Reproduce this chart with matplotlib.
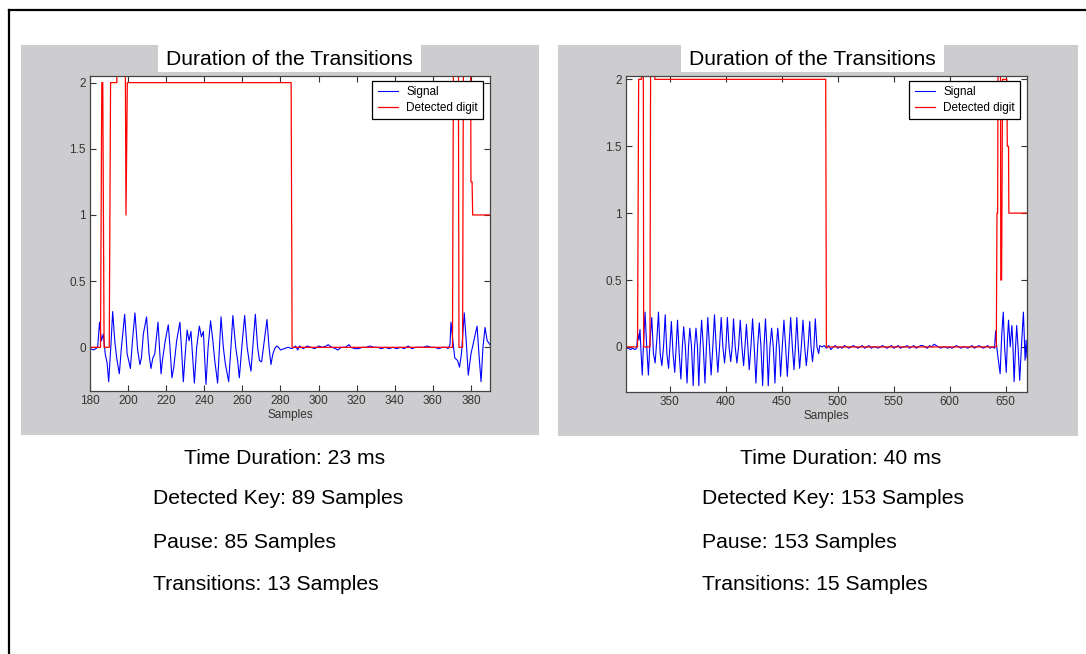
import matplotlib
matplotlib.use("Agg")
import matplotlib.pyplot as plt
from matplotlib.patches import Rectangle
from matplotlib.lines import Line2D

plt.rcParams['font.family'] = ['Liberation Sans', 'DejaVu Sans']

# Left chart: samples 180-390
left_signal = [(180, -0.01), (182, -0.02), (184, 0.0), (185, 0.19), (186, 0.05), (187, 0.1), (188, -0.05),
               (189, -0.12), (189.8, -0.26), (191, 0.02), (191.9, 0.27), (193, 0.05), (194, -0.08), (195.4, -0.2),
               (196.5, 0.0), (198.2, 0.25), (199.5, -0.05), (200.3, -0.1), (201.2, -0.16), (202.3, 0.05),
               (203.6, 0.26), (205, -0.02), (206.2, -0.13), (207, -0.08), (208, 0.1), (209.7, 0.23), (211, -0.05),
               (212, -0.16), (213, -0.08), (214, -0.05), (215.7, 0.19), (216.5, 0.0), (217.3, -0.2), (218, -0.1),
               (219.5, 0.05), (221.1, 0.17), (222, 0.0), (223, -0.23), (224, -0.15), (225.5, 0.05), (227.2, 0.19),
               (228, 0.0), (229, -0.26), (230, -0.05), (231, 0.13), (232, 0.05), (233, 0.12), (234, -0.1),
               (234.8, -0.27), (236, 0.0), (237.4, 0.16), (238.5, 0.08), (239.5, 0.12), (240.9, -0.28), (242, 0.0),
               (243.3, 0.2), (244.5, 0.05), (245.5, -0.1), (247, -0.27), (248.8, 0.23), (250, 0.0), (251, -0.12),
               (252.8, -0.26), (254, 0.0), (255, 0.24), (256.5, 0.0), (257.5, -0.1), (258.4, -0.23), (260, 0.05),
               (261.2, 0.24), (262.5, 0.0), (263.5, -0.1), (264.5, -0.18), (266, 0.1), (266.8, 0.25), (268, 0.0),
               (269, -0.1), (270.1, -0.11), (271.5, 0.05), (272.9, 0.21), (274, 0.0), (275, -0.13), (276, -0.05),
               (277, -0.01), (278, 0.01), (279, 0.0), (280, -0.02), (282, -0.01), (284, 0.0), (286, -0.01),
               (288, 0.01), (289, -0.02), (290, 0.01), (292, -0.01), (294, 0.01), (296, 0.0), (298, -0.01),
               (300, 0.01), (302, 0.0), (304, 0.01), (305, 0.02), (307, 0.0), (309, -0.01), (310, -0.02),
               (312, 0.0), (314, 0.0), (316, 0.02), (317, 0.0), (319, -0.01), (321, -0.01), (323, 0.0), (325, 0.0),
               (327, 0.01), (329, 0.0), (331, 0.0), (333, -0.01), (335, 0.0), (337, -0.01), (339, 0.0),
               (341, -0.01), (343, 0.0), (345, -0.01), (347, 0.01), (349, -0.01), (351, 0.0), (353, 0.0),
               (355, 0.0), (357, 0.01), (359, 0.0), (361, 0.0), (363, -0.01), (365, 0.0), (367, 0.0), (368, -0.01),
               (369, 0.02), (369.5, 0.19), (370.5, 0.05), (371.5, -0.08), (373, -0.1), (374, -0.15), (375, -0.05),
               (376.5, 0.26), (377.5, 0.05), (378.6, -0.21), (380, -0.05), (381.5, 0.05), (383.2, 0.16),
               (384.2, -0.05), (385.3, -0.26), (386.3, 0.0), (387.4, 0.15), (388.5, 0.05), (390, 0.02)]

left_digit = [(180, 0), (185.5, 0), (186.2, 2), (186.7, 2), (187.4, 0), (190.1, 0), (190.8, 2), (194.1, 2),
              (194.4, 3), (198.3, 3), (198.9, 1), (199.6, 2), (285.6, 2), (286.1, 0), (370.3, 0), (371.0, 3),
              (373.3, 3), (373.7, 0), (375.6, 0), (376.2, 3), (379.7, 3), (380.0, 1.25), (380.6, 1.25),
              (380.9, 1), (390, 1)]

# Right chart: samples 311-669
right_signal = [(311, -0.01), (313, -0.01), (315, -0.02), (317, -0.01), (319, -0.02), (320.5, -0.01),
                (321.5, 0.1), (322.5, 0.05), (323.5, 0.13), (324.5, -0.05), (325.5, -0.21), (326.5, 0.0),
                (328, 0.26), (329.5, 0.0), (331, -0.21), (332.5, 0.05), (334, 0.22), (335.5, -0.05), (337, -0.12),
                (338.5, 0.05), (340, 0.26), (341.5, -0.05), (343, -0.14), (344.5, 0.0), (346, 0.24),
                (347.5, -0.05), (349, -0.16), (350.2, 0.0), (351.5, 0.19), (353, -0.05), (354.5, -0.19),
                (355.8, 0.0), (357, 0.2), (358.5, -0.05), (360, -0.24), (361.3, 0.0), (362.5, 0.15), (364, 0.0),
                (365.5, -0.27), (366.8, 0.0), (368, 0.14), (369.5, 0.0), (371, -0.29), (372.2, 0.0), (373.5, 0.14),
                (374.8, 0.0), (376, -0.29), (377.2, 0.0), (378.5, 0.2), (380, 0.0), (381.5, -0.27), (382.8, 0.0),
                (384, 0.22), (385.5, 0.0), (387, -0.21), (388.5, 0.0), (390, 0.24), (391.5, 0.0), (393, -0.19),
                (394.5, 0.0), (396, 0.22), (397.5, 0.0), (399, -0.12), (400.2, 0.0), (401.5, 0.22), (403, 0.0),
                (404.5, -0.11), (405.8, 0.0), (407, 0.21), (408.5, 0.0), (410, -0.12), (411.5, 0.0), (413, 0.2),
                (414.5, 0.0), (416, -0.14), (417.2, 0.0), (418.5, 0.17), (419.8, 0.0), (421, -0.17), (422.5, 0.0),
                (424, 0.21), (425.5, 0.0), (427, -0.27), (428.5, 0.0), (430, 0.18), (431.5, 0.0), (433, -0.29),
                (434.2, 0.0), (435.5, 0.21), (436.8, 0.0), (438, -0.29), (439.5, 0.0), (441, 0.14), (442.5, 0.0),
                (444, -0.27), (445.2, 0.0), (446.5, 0.14), (447.8, 0.0), (449, -0.22), (450.5, 0.0), (452, 0.2),
                (453.5, 0.0), (455, -0.22), (456.5, 0.0), (458, 0.22), (459.5, 0.0), (461, -0.17), (462.2, 0.0),
                (463.5, 0.22), (464.8, 0.0), (466, -0.16), (467.5, 0.0), (469, 0.2), (470.5, 0.0), (472, -0.14),
                (473.5, 0.0), (475, 0.19), (476.2, 0.0), (477.5, -0.11), (478.8, 0.0), (480, 0.21), (481.5, 0.0),
                (483, -0.05), (484, 0.01), (486, 0.0), (488, 0.01), (490, -0.01), (492, 0.01), (494, -0.02),
                (496, 0.0), (498, 0.01), (500, -0.01), (502, 0.0), (504, -0.01), (506, 0.01), (508, 0.0),
                (510, -0.01), (512, 0.0), (514, 0.01), (516, 0.0), (518, -0.01), (520, 0.0), (522, 0.01),
                (524, -0.01), (526, 0.0), (528, 0.01), (530, -0.01), (532, 0.0), (534, 0.0), (536, -0.01),
                (538, 0.0), (540, 0.01), (542, 0.0), (544, -0.01), (546, 0.0), (548, 0.01), (550, -0.01),
                (552, 0.0), (554, 0.01), (556, -0.01), (558, 0.0), (560, 0.0), (562, 0.01), (564, -0.01),
                (566, 0.0), (568, 0.01), (570, -0.01), (572, 0.0), (574, 0.01), (576, 0.01), (578, 0.0),
                (580, -0.01), (582, 0.01), (584, 0.0), (586, 0.02), (588, 0.01), (590, 0.0), (592, -0.01),
                (594, 0.0), (596, 0.0), (598, -0.01), (600, 0.0), (602, -0.01), (604, 0.0), (606, 0.01), (608, 0.0),
                (610, -0.01), (612, 0.0), (614, 0.0), (616, -0.01), (618, 0.0), (620, 0.01), (622, -0.01),
                (624, 0.0), (626, 0.01), (628, 0.0), (630, -0.01), (632, 0.0), (634, 0.01), (636, -0.01),
                (638, 0.0), (640, -0.01), (641, 0.12), (642, 0.0), (643, -0.07), (645, -0.2), (646.5, 0.1),
                (647.8, 0.26), (649, 0.0), (650.5, -0.19), (651.5, 0.05), (652.5, 0.2), (654, 0.0), (655.5, 0.16),
                (656.5, 0.0), (657.5, -0.26), (658.8, 0.0), (659.8, 0.16), (661, 0.0), (662.5, -0.25), (664, 0.0),
                (665.8, 0.26), (667.3, -0.1), (668.2, 0.05), (669, -0.08)]

right_digit = [(311, 0), (321.3, 0), (322.3, 2), (324.8, 2), (325.4, 3), (326.3, 3), (326.8, 0), (332.4, 0),
               (333.2, 3), (336.4, 3), (336.7, 2), (489.3, 2), (489.9, 0), (641.6, 0), (642.2, 1), (642.8, 1),
               (643.4, 3), (645.2, 3), (645.6, 0.5), (646.3, 0.5), (647.2, 2), (651.0, 2), (651.4, 1.5),
               (652.5, 1.5), (652.8, 1), (669, 1)]

left_xticks = [180, 200, 220, 240, 260, 280, 300, 320, 340, 360, 380]
right_xticks = [350, 400, 450, 500, 550, 600, 650]
yticks = [0, 0.5, 1, 1.5, 2]
ytick_labels = ["0", "0.5", "1", "1.5", "2"]

left_notes = ["Detected Key: 89 Samples", "Pause: 85 Samples", "Transitions: 13 Samples"]
right_notes = ["Detected Key: 153 Samples", "Pause: 153 Samples", "Transitions: 15 Samples"]
left_duration = "Time Duration: 23 ms"
right_duration = "Time Duration: 40 ms"

W, H = 1086, 654
fig = plt.figure(figsize=(W / 100, H / 100), dpi=100)
fig.patch.set_facecolor("white")


def fx(px):
    return px / W


def fy(py):
    return 1 - py / H


# slide frame
fig.add_artist(Line2D([fx(9), fx(9)], [fy(10), 0], color="black", lw=1.6))
fig.add_artist(Line2D([fx(9), 1], [fy(10), fy(10)], color="black", lw=1.6))

gray = "#cdcccf"
panels = [(21, 45, 539, 435), (558, 45, 1078, 436)]
title_boxes = [(158, 45, 421, 72), (681, 45, 944, 72)]
for (x0, y0, x1, y1) in panels:
    fig.add_artist(Rectangle((fx(x0), fy(y1)), fx(x1 - x0), (y1 - y0) / H, facecolor=gray,
                             edgecolor="none", zorder=-2))
for (x0, y0, x1, y1) in title_boxes:
    fig.add_artist(Rectangle((fx(x0), fy(y1)), fx(x1 - x0), (y1 - y0) / H, facecolor="white",
                             edgecolor="none", zorder=-1))
    fig.text(fx((x0 + x1) / 2), fy((y0 + y1) / 2 + 1), "Duration of the Transitions",
             ha="center", va="center", fontsize=15.2, color="black")


def draw(ax, signal, digit, xlim, ylim, xticks):
    sx, sy = zip(*signal)
    dx, dy = zip(*digit)
    ax.plot(sx, sy, color="#0000ff", lw=0.8, label="Signal")
    ax.plot(dx, dy, color="#ff0000", lw=0.9, label="Detected digit")
    ax.set_xlim(*xlim)
    ax.set_ylim(*ylim)
    ax.set_xticks(xticks)
    ax.set_yticks(yticks)
    ax.set_yticklabels(ytick_labels)
    ax.tick_params(direction="in", length=4, width=0.8, top=True, right=True,
                   labelsize=8.5, colors="#333333", pad=3)
    for s in ax.spines.values():
        s.set_color("#444444")
        s.set_linewidth(0.9)
    ax.set_xlabel("Samples", fontsize=8.5, labelpad=1, color="#333333")
    leg = ax.legend(loc="upper right", fontsize=8.5, frameon=True, fancybox=False,
                    bbox_to_anchor=(1 - 7 / 400, 1 - 5 / 315), borderaxespad=0,
                    handlelength=1.7, handletextpad=0.7, borderpad=0.45, labelspacing=0.3)
    leg.get_frame().set_edgecolor("black")
    leg.get_frame().set_linewidth(0.9)
    leg.get_frame().set_alpha(1)


ax1 = fig.add_axes([fx(90), fy(391), fx(400), 315 / H])
draw(ax1, left_signal, left_digit, (180, 390), (-0.33, 2.05), left_xticks)

ax2 = fig.add_axes([fx(626), fy(392), fx(401), 316 / H])
draw(ax2, right_signal, right_digit, (311, 669), (-0.337, 2.025), right_xticks)

note_y = [499, 542, 584]
fs = 15.2
fig.text(fx(285), fy(459), left_duration, ha="center", va="center", fontsize=fs)
fig.text(fx(841), fy(459), right_duration, ha="center", va="center", fontsize=fs)
for t, y in zip(left_notes, note_y):
    fig.text(fx(153), fy(y), t, ha="left", va="center", fontsize=fs)
for t, y in zip(right_notes, note_y):
    fig.text(fx(702), fy(y), t, ha="left", va="center", fontsize=fs)

fig.savefig("out.png", dpi=100, facecolor="white")
